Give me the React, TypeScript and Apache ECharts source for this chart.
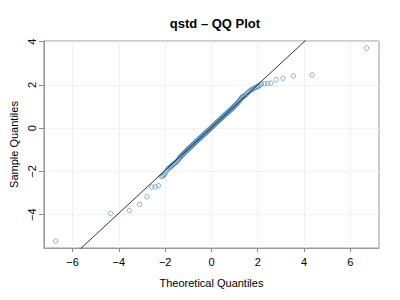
import React, { useEffect, useRef } from "react";
import * as echarts from "echarts";

const chartTitle = "qstd – QQ Plot";
const xAxisTitle = "Theoretical Quantiles";
const yAxisTitle = "Sample Quantiles";

const xTicks = [-6, -4, -2, 0, 2, 4, 6];
const yTicks = [-4, -2, 0, 2, 4];
const xRange = [-7.24, 7.24];
const yRange = [-5.54, 4.03];

// reference line y = a + b x
const lineIntercept = 0.03;
const lineSlope = 0.99;

const lowerTail = [
  [-6.73, -5.22], [-4.36, -3.94], [-3.55, -3.81], [-3.11, -3.53], [-2.79, -3.17],
  [-2.58, -2.72], [-2.43, -2.72], [-2.29, -2.66], [-2.17, -2.24], [-2.12, -2.21],
  [-2.07, -2.18], [-2.02, -2.13], [-1.97, -2.03], [-1.92, -1.94], [-1.87, -1.87],
  [-1.82, -1.83], [-1.78, -1.80], [-1.74, -1.77], [-1.70, -1.73], [-1.66, -1.68],
  [-1.62, -1.65], [-1.58, -1.62], [-1.54, -1.58], [-1.50, -1.55], [-1.46, -1.50],
  [-1.43, -1.46], [-1.40, -1.41], [-1.37, -1.37], [-1.34, -1.33], [-1.31, -1.30],
  [-1.28, -1.27], [-1.25, -1.23],
];

const core = [
  [-1.22, -1.20], [-1.19, -1.16], [-1.16, -1.13], [-1.13, -1.10], [-1.10, -1.07],
  [-1.07, -1.04], [-1.04, -1.00], [-1.01, -0.98], [-0.98, -0.95], [-0.95, -0.91],
  [-0.92, -0.89], [-0.89, -0.86], [-0.86, -0.82], [-0.83, -0.80], [-0.80, -0.77],
  [-0.77, -0.73], [-0.74, -0.70], [-0.71, -0.67], [-0.68, -0.64], [-0.65, -0.61],
  [-0.62, -0.58], [-0.59, -0.55], [-0.56, -0.52], [-0.53, -0.49], [-0.50, -0.46],
  [-0.47, -0.43], [-0.44, -0.41], [-0.41, -0.38], [-0.38, -0.35], [-0.35, -0.32],
  [-0.32, -0.29], [-0.29, -0.26], [-0.26, -0.23], [-0.23, -0.20], [-0.20, -0.17],
  [-0.17, -0.14], [-0.14, -0.11], [-0.11, -0.08], [-0.08, -0.05], [-0.05, -0.02],
  [-0.02, 0.01], [0.01, 0.04], [0.04, 0.07], [0.07, 0.10], [0.10, 0.13],
  [0.13, 0.16], [0.16, 0.19], [0.19, 0.22], [0.22, 0.25], [0.25, 0.28],
  [0.28, 0.31], [0.31, 0.34], [0.34, 0.37], [0.37, 0.40], [0.40, 0.43],
  [0.43, 0.46], [0.46, 0.49], [0.49, 0.52], [0.52, 0.55], [0.55, 0.58],
  [0.58, 0.61], [0.61, 0.64], [0.64, 0.67], [0.67, 0.70], [0.70, 0.72],
  [0.73, 0.75], [0.76, 0.78], [0.79, 0.81], [0.82, 0.84], [0.85, 0.87],
  [0.88, 0.90], [0.91, 0.93], [0.94, 0.96], [0.97, 0.99], [1.00, 1.03],
  [1.03, 1.06], [1.06, 1.09], [1.09, 1.12], [1.12, 1.16], [1.15, 1.19],
  [1.18, 1.23], [1.21, 1.27], [1.24, 1.31], [1.27, 1.35], [1.30, 1.40],
  [1.33, 1.44], [1.36, 1.46],
];

const upperTail = [
  [1.40, 1.48], [1.44, 1.50], [1.48, 1.54], [1.52, 1.58], [1.57, 1.64],
  [1.62, 1.69], [1.67, 1.73], [1.72, 1.77], [1.77, 1.80], [1.82, 1.83],
  [1.87, 1.86], [1.93, 1.89], [1.98, 1.92], [2.04, 1.95], [2.10, 1.99],
  [2.16, 2.05], [2.29, 2.06], [2.43, 2.07], [2.57, 2.08], [2.80, 2.24],
  [3.09, 2.31], [3.54, 2.42], [4.35, 2.46], [6.70, 3.70],
];

const fmt = (v: number) => String(v).replace("-", "\u2212");

export default function App() {
  const ref = useRef<HTMLDivElement>(null);
  useEffect(() => {
    if (!ref.current) return;
    const chart = echarts.init(ref.current, null, { renderer: "svg" });
    const points = [...lowerTail, ...core, ...upperTail];
    const lineData = [
      [xRange[0], lineIntercept + lineSlope * xRange[0]],
      [xRange[1], lineIntercept + lineSlope * xRange[1]],
    ];
    const font = "Liberation Sans, Arial, Helvetica, sans-serif";
    chart.setOption({
      animation: false,
      backgroundColor: "#ffffff",
      textStyle: { fontFamily: font },
      title: {
        text: chartTitle,
        left: 210,
        textAlign: "center",
        top: 12,
        textStyle: { fontSize: 13, fontWeight: "bold", color: "#000", fontFamily: font },
      },
      grid: {
        left: 41,
        right: 21,
        top: 41,
        bottom: 52,
        show: true,
        borderColor: "#999999",
        borderWidth: 1,
        backgroundColor: "transparent",
      },
      xAxis: {
        type: "value",
        min: xRange[0],
        max: xRange[1],
        splitNumber: 7,
        name: xAxisTitle,
        nameLocation: "middle",
        nameGap: 29,
        nameTextStyle: { fontSize: 11, color: "#000", fontFamily: font },
        axisLine: { show: true, onZero: false, lineStyle: { color: "#999999", width: 1 } },
        axisTick: { show: true, length: 4, customValues: xTicks, lineStyle: { color: "#888888" } },
        axisLabel: {
          customValues: xTicks,
          formatter: fmt,
          fontSize: 11,
          color: "#000",
          margin: 8,
          fontFamily: font,
        },
        splitLine: { show: true, lineStyle: { color: "#e6e6e6", type: "dotted", width: 1 } },
      },
      yAxis: {
        type: "value",
        min: yRange[0],
        max: yRange[1],
        splitNumber: 5,
        name: yAxisTitle,
        nameLocation: "middle",
        nameGap: 22,
        nameRotate: 90,
        nameTextStyle: { fontSize: 11, color: "#000", fontFamily: font },
        axisLine: { show: true, onZero: false, lineStyle: { color: "#999999", width: 1 } },
        axisTick: { show: true, length: 5, customValues: yTicks, lineStyle: { color: "#888888" } },
        axisLabel: {
          customValues: yTicks,
          formatter: fmt,
          rotate: 90,
          fontSize: 11,
          color: "#000",
          margin: 6,
          fontFamily: font,
        },
        splitLine: { show: true, lineStyle: { color: "#e6e6e6", type: "dotted", width: 1 } },
      },
      series: [
        {
          type: "scatter",
          data: points,
          symbol: "circle",
          symbolSize: 4.5,
          itemStyle: { color: "rgba(0,0,0,0)", borderColor: "#4682b4", borderWidth: 0.8 },
          z: 3,
        },
        {
          type: "line",
          data: lineData,
          showSymbol: false,
          symbol: "none",
          clip: true,
          lineStyle: { color: "#000000", width: 0.8 },
          z: 4,
        },
      ],
    });
    return () => chart.dispose();
  }, []);
  return <div ref={ref} style={{ width: 400, height: 300, margin: -8 }} />;
}
